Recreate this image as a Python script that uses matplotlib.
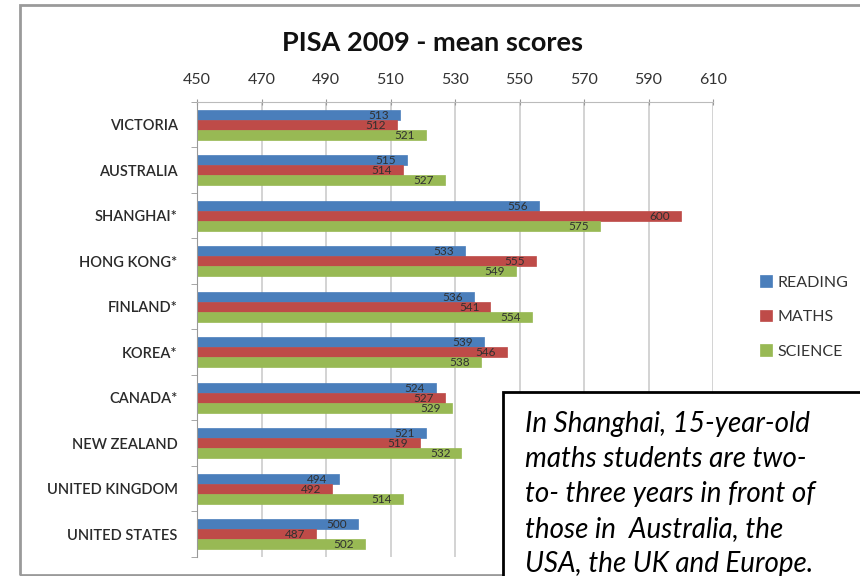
import matplotlib.pyplot as plt
import numpy as np
from matplotlib.patches import Rectangle

plt.rcParams['font.family'] = ['Lato', 'DejaVu Sans']

countries = ['VICTORIA', 'AUSTRALIA', 'SHANGHAI*', 'HONG KONG*', 'FINLAND*',
             'KOREA*', 'CANADA*', 'NEW ZEALAND', 'UNITED KINGDOM', 'UNITED STATES']
reading = [513, 515, 556, 533, 536, 539, 524, 521, 494, 500]
maths = [512, 514, 600, 555, 541, 546, 527, 519, 492, 487]
science = [521, 527, 575, 549, 554, 538, 529, 532, 514, 502]
series_names = ['READING', 'MATHS', 'SCIENCE']
colors = ['#4a7ebb', '#be4b48', '#98b954']

note_lines = ['In Shanghai, 15-year-old', 'maths students are two-',
              'to- three years in front of', 'those in  Australia, the',
              'USA, the UK and Europe.']

W, H = 860, 576


def fx(px):
    return px / W


def fy(py):
    return 1 - py / H


fig = plt.figure(figsize=(8.6, 5.76), dpi=100)
fig.patch.set_facecolor('white')

# outer chart frame, cut off at the right like the screenshot
fig.patches.append(Rectangle((fx(20), fy(575)), 1.0, fy(5) - fy(575),
                             transform=fig.transFigure, fill=False,
                             edgecolor='#9a9a9a', linewidth=2))

ax = fig.add_axes([fx(197), fy(557), fx(713) - fx(197), fy(102) - fy(557)])

y = np.arange(len(countries))
h = 0.22
data = [reading, maths, science]
for i, (vals, name, c) in enumerate(zip(data, series_names, colors)):
    pos = y + (i - 1) * h
    ax.barh(pos, np.array(vals) - 450, left=450, height=h, color=c,
            label=name, edgecolor=c, linewidth=0.5)
    for p, v in zip(pos, vals):
        ax.annotate(str(v), (v, p), xytext=(-8, -0.5), textcoords='offset points',
                    ha='right', va='center', fontsize=8.5, color='#303030')

ax.set_xlim(450, 610)
ax.set_ylim(len(countries) - 0.5, -0.5)
ax.set_xticks(np.arange(450, 611, 20))
ax.xaxis.tick_top()
ax.tick_params(axis='x', length=5, direction='inout', color='#999999',
               labelsize=11.5, labelcolor='#333333', pad=8)
ax.set_yticks(y)
ax.set_yticklabels(countries, fontweight='semibold')
ax.tick_params(axis='y', length=0, labelsize=10.5, labelcolor='#2a2a2a', pad=14)
ax.set_yticks(np.arange(-0.5, len(countries), 1), minor=True)
ax.tick_params(axis='y', which='minor', length=4, color='#999999')
ax.grid(axis='x', color='#cccccc', linewidth=1.2)
ax.set_axisbelow(True)
for s in ['right', 'bottom']:
    ax.spines[s].set_visible(False)
ax.spines['left'].set_color('#999999')
ax.spines['top'].set_color('#bbbbbb')

fig.text(fx(433), fy(43), 'PISA 2009 - mean scores', ha='center', va='center',
         fontsize=19.5, fontweight='bold', color='#111111')

fig.legend(loc='center left', bbox_to_anchor=(fx(746), fy(317)),
           frameon=False, fontsize=11.5, handlelength=0.75, handleheight=0.75,
           labelspacing=1.25, handletextpad=0.3, labelcolor='#333333')

# callout box, running off the right and bottom edge
fig.patches.append(Rectangle((fx(503), fy(600)), 1.0, fy(392) - fy(600),
                             transform=fig.transFigure, facecolor='white',
                             edgecolor='black', linewidth=2, zorder=5))
for k, line in enumerate(note_lines):
    fig.text(fx(525), fy(432 + 35 * k), line, ha='left', va='baseline',
             fontsize=20, style='italic', color='black', zorder=6)

fig.savefig('out.png', dpi=100)
